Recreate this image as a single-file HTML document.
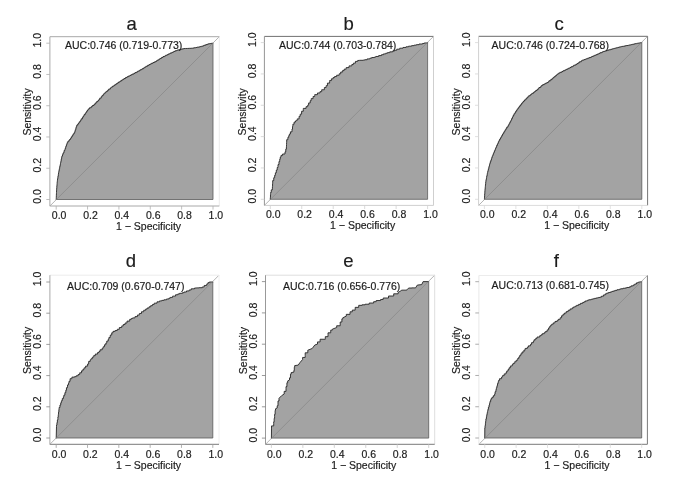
<!DOCTYPE html>
<html><head><meta charset="utf-8"><title>ROC curves</title>
<style>
html,body{margin:0;padding:0;background:#fff;}
body{width:685px;height:486px;overflow:hidden;font-family:"Liberation Sans",sans-serif;}
svg{display:block;opacity:0.999;will-change:transform;}
text{font-family:"Liberation Sans",sans-serif;fill:#1c1c1c;stroke:#1c1c1c;stroke-width:0.18px;}
.t{font-size:10.5px;}
.h{font-size:18.5px;}
</style></head><body>
<svg width="685" height="486" viewBox="0 0 685 486">
<rect x="0" y="0" width="685" height="486" fill="#ffffff"/>
<g id="panel-a">
<polygon points="56.2,199.5 56.2,198.82 56.26,198.82 56.26,197.44 56.32,197.44 56.32,195.7 56.4,195.7 56.4,193.84 56.47,193.84 56.47,192.46 56.52,192.46 56.52,190.95 56.6,190.95 56.6,190 56.6,189.23 56.72,189.23 56.72,187.74 56.84,187.74 56.84,186.1 56.98,186.1 56.98,184.49 57.09,184.49 57.09,183.45 57.15,183.45 57.15,182.15 57.3,182.15 57.3,181.2 57.3,180.57 57.5,180.57 57.5,179.08 57.78,179.08 57.78,177.73 57.94,177.73 57.94,176.12 58.3,176.12 58.3,174.28 58.53,174.28 58.53,173.03 58.7,173.03 58.7,172.5 58.7,171.97 58.92,171.97 58.92,170.54 59.28,170.54 59.28,168.77 59.64,168.77 59.64,167.29 59.89,167.29 59.89,166 60.17,166 60.17,164.51 60.5,164.51 60.5,163.7 60.5,162.65 60.92,162.65 60.92,160.77 61.25,160.77 61.25,158.96 61.64,158.96 61.64,157.34 61.9,157.34 61.9,156.7 61.9,155.99 62.5,155.99 62.5,154.63 63.06,154.63 63.06,152.94 63.93,152.94 63.93,151.59 64.2,151.59 64.2,150.34 65,150.34 65,149.4 65,148.52 65.62,148.52 65.62,147.22 65.92,147.22 65.92,146.08 66.42,146.08 66.42,144.63 66.95,144.63 66.95,143.24 67.4,143.24 67.4,142.6 67.4,141.83 68.69,141.83 68.69,140.59 69.48,140.59 69.48,139.51 70.5,139.51 70.5,138.9 70.5,138.23 71.35,138.23 71.35,136.81 72.3,136.81 72.3,135.41 73.11,135.41 73.11,133.92 74.19,133.92 74.19,132.58 74.8,132.58 74.8,132.1 74.8,131.44 75.2,131.44 75.2,129.79 75.81,129.79 75.81,128.29 76.12,128.29 76.12,126.84 76.7,126.84 76.7,125.9 76.7,125.23 77.72,125.23 77.72,123.97 78.61,123.97 78.61,122.9 79.33,122.9 79.33,121.71 80.4,121.71 80.4,121 80.4,120.43 81.15,120.43 81.15,118.86 82.48,118.86 82.48,117.27 83.25,117.27 83.25,116.04 84.1,116.04 84.1,115.4 84.1,114.61 85.21,114.61 85.21,113.26 86.01,113.26 86.01,112.21 86.7,112.21 86.7,111.2 87.42,111.2 87.42,110 88.4,110 88.4,109.3 88.4,108.86 89.53,108.86 89.53,107.74 91.24,107.74 91.24,106.62 92.39,106.62 92.39,105.53 94,105.53 94,104.9 94,104.25 95.29,104.25 95.29,102.92 96.66,102.92 96.66,101.58 97.99,101.58 97.99,100.46 98.9,100.46 98.9,100 98.9,99.52 99.71,99.52 99.71,98.15 101.21,98.15 101.21,96.7 102.15,96.7 102.15,95.41 103.37,95.41 103.37,94.19 104.2,94.19 104.2,93.7 104.2,93.21 105.32,93.21 105.32,92.34 106.2,92.34 106.2,91.36 107.58,91.36 107.58,90.27 108.69,90.27 108.69,89.07 110.34,89.07 110.34,87.98 111.2,87.98 111.2,87.6 111.2,87.15 112.49,87.15 112.49,86.22 113.89,86.22 113.89,85.43 114.78,85.43 114.78,84.71 115.97,84.71 115.97,83.84 117.28,83.84 117.28,82.98 118.45,82.98 118.45,82.04 120,82.04 120,81.5 120,81.01 121.57,81.01 121.57,80.14 122.76,80.14 122.76,79.39 123.94,79.39 123.94,78.53 125.49,78.53 125.49,77.57 127,77.57 127,77.1 127,76.75 128.38,76.75 128.38,76 130.01,76 130.01,75.36 130.94,75.36 130.94,74.84 132.12,74.84 132.12,74.11 133.85,74.11 133.85,73.39 135,73.39 135,73.1 135,72.6 136.79,72.6 136.79,71.83 137.78,71.83 137.78,71.06 139.55,71.06 139.55,70.33 140.4,70.33 140.4,69.65 142,69.65 142,69.2 142,68.74 143.5,68.74 143.5,67.93 144.63,67.93 144.63,67.2 145.89,67.2 145.89,66.29 147.59,66.29 147.59,65.33 149,65.33 149,64.9 149,64.61 150.15,64.61 150.15,64.01 151.42,64.01 151.42,63.29 153.03,63.29 153.03,62.49 154.62,62.49 154.62,61.75 156,61.75 156,61.4 156,61.05 157.12,61.05 157.12,60.17 158.79,60.17 158.79,59.28 159.94,59.28 159.94,58.43 161.52,58.43 161.52,57.47 163,57.47 163,57 163,56.56 164.76,56.56 164.76,55.9 165.64,55.9 165.64,55.28 167.26,55.28 167.26,54.58 168.44,54.58 168.44,53.89 170,53.89 170,53.5 170,53.09 171.78,53.09 171.78,52.48 172.69,52.48 172.69,52 173.86,52 173.86,51.41 175.27,51.41 175.27,50.7 177,50.7 177,50.3 177,50.13 178.43,50.13 178.43,49.83 179.43,49.83 179.43,49.54 180.87,49.54 180.87,49.16 182.54,49.16 182.54,48.78 184,48.78 184,48.6 184,48.57 185.44,48.57 185.44,48.48 187.68,48.48 187.68,48.4 189.16,48.4 189.16,48.32 191.02,48.32 191.02,48.24 192.7,48.24 192.7,48.2 192.7,48.09 193.83,48.09 193.83,47.79 195.77,47.79 195.77,47.49 196.96,47.49 196.96,47.2 198.81,47.2 198.81,46.9 200.04,46.9 200.04,46.64 201.5,46.64 201.5,46.5 201.5,46.2 203.12,46.2 203.12,45.75 203.91,45.75 203.91,45.27 205.72,45.27 205.72,44.62 207.41,44.62 207.41,44.1 208.5,44.1 208.5,43.9 208.5,43.76 210.27,43.76 210.27,43.56 211.14,43.56 211.14,43.35 213,43.35 213,43.2 213,199.5" fill="#a3a3a3" stroke="none"/>
<polyline points="56.2,199.5 56.2,198.82 56.26,198.82 56.26,197.44 56.32,197.44 56.32,195.7 56.4,195.7 56.4,193.84 56.47,193.84 56.47,192.46 56.52,192.46 56.52,190.95 56.6,190.95 56.6,190 56.6,189.23 56.72,189.23 56.72,187.74 56.84,187.74 56.84,186.1 56.98,186.1 56.98,184.49 57.09,184.49 57.09,183.45 57.15,183.45 57.15,182.15 57.3,182.15 57.3,181.2 57.3,180.57 57.5,180.57 57.5,179.08 57.78,179.08 57.78,177.73 57.94,177.73 57.94,176.12 58.3,176.12 58.3,174.28 58.53,174.28 58.53,173.03 58.7,173.03 58.7,172.5 58.7,171.97 58.92,171.97 58.92,170.54 59.28,170.54 59.28,168.77 59.64,168.77 59.64,167.29 59.89,167.29 59.89,166 60.17,166 60.17,164.51 60.5,164.51 60.5,163.7 60.5,162.65 60.92,162.65 60.92,160.77 61.25,160.77 61.25,158.96 61.64,158.96 61.64,157.34 61.9,157.34 61.9,156.7 61.9,155.99 62.5,155.99 62.5,154.63 63.06,154.63 63.06,152.94 63.93,152.94 63.93,151.59 64.2,151.59 64.2,150.34 65,150.34 65,149.4 65,148.52 65.62,148.52 65.62,147.22 65.92,147.22 65.92,146.08 66.42,146.08 66.42,144.63 66.95,144.63 66.95,143.24 67.4,143.24 67.4,142.6 67.4,141.83 68.69,141.83 68.69,140.59 69.48,140.59 69.48,139.51 70.5,139.51 70.5,138.9 70.5,138.23 71.35,138.23 71.35,136.81 72.3,136.81 72.3,135.41 73.11,135.41 73.11,133.92 74.19,133.92 74.19,132.58 74.8,132.58 74.8,132.1 74.8,131.44 75.2,131.44 75.2,129.79 75.81,129.79 75.81,128.29 76.12,128.29 76.12,126.84 76.7,126.84 76.7,125.9 76.7,125.23 77.72,125.23 77.72,123.97 78.61,123.97 78.61,122.9 79.33,122.9 79.33,121.71 80.4,121.71 80.4,121 80.4,120.43 81.15,120.43 81.15,118.86 82.48,118.86 82.48,117.27 83.25,117.27 83.25,116.04 84.1,116.04 84.1,115.4 84.1,114.61 85.21,114.61 85.21,113.26 86.01,113.26 86.01,112.21 86.7,112.21 86.7,111.2 87.42,111.2 87.42,110 88.4,110 88.4,109.3 88.4,108.86 89.53,108.86 89.53,107.74 91.24,107.74 91.24,106.62 92.39,106.62 92.39,105.53 94,105.53 94,104.9 94,104.25 95.29,104.25 95.29,102.92 96.66,102.92 96.66,101.58 97.99,101.58 97.99,100.46 98.9,100.46 98.9,100 98.9,99.52 99.71,99.52 99.71,98.15 101.21,98.15 101.21,96.7 102.15,96.7 102.15,95.41 103.37,95.41 103.37,94.19 104.2,94.19 104.2,93.7 104.2,93.21 105.32,93.21 105.32,92.34 106.2,92.34 106.2,91.36 107.58,91.36 107.58,90.27 108.69,90.27 108.69,89.07 110.34,89.07 110.34,87.98 111.2,87.98 111.2,87.6 111.2,87.15 112.49,87.15 112.49,86.22 113.89,86.22 113.89,85.43 114.78,85.43 114.78,84.71 115.97,84.71 115.97,83.84 117.28,83.84 117.28,82.98 118.45,82.98 118.45,82.04 120,82.04 120,81.5 120,81.01 121.57,81.01 121.57,80.14 122.76,80.14 122.76,79.39 123.94,79.39 123.94,78.53 125.49,78.53 125.49,77.57 127,77.57 127,77.1 127,76.75 128.38,76.75 128.38,76 130.01,76 130.01,75.36 130.94,75.36 130.94,74.84 132.12,74.84 132.12,74.11 133.85,74.11 133.85,73.39 135,73.39 135,73.1 135,72.6 136.79,72.6 136.79,71.83 137.78,71.83 137.78,71.06 139.55,71.06 139.55,70.33 140.4,70.33 140.4,69.65 142,69.65 142,69.2 142,68.74 143.5,68.74 143.5,67.93 144.63,67.93 144.63,67.2 145.89,67.2 145.89,66.29 147.59,66.29 147.59,65.33 149,65.33 149,64.9 149,64.61 150.15,64.61 150.15,64.01 151.42,64.01 151.42,63.29 153.03,63.29 153.03,62.49 154.62,62.49 154.62,61.75 156,61.75 156,61.4 156,61.05 157.12,61.05 157.12,60.17 158.79,60.17 158.79,59.28 159.94,59.28 159.94,58.43 161.52,58.43 161.52,57.47 163,57.47 163,57 163,56.56 164.76,56.56 164.76,55.9 165.64,55.9 165.64,55.28 167.26,55.28 167.26,54.58 168.44,54.58 168.44,53.89 170,53.89 170,53.5 170,53.09 171.78,53.09 171.78,52.48 172.69,52.48 172.69,52 173.86,52 173.86,51.41 175.27,51.41 175.27,50.7 177,50.7 177,50.3 177,50.13 178.43,50.13 178.43,49.83 179.43,49.83 179.43,49.54 180.87,49.54 180.87,49.16 182.54,49.16 182.54,48.78 184,48.78 184,48.6 184,48.57 185.44,48.57 185.44,48.48 187.68,48.48 187.68,48.4 189.16,48.4 189.16,48.32 191.02,48.32 191.02,48.24 192.7,48.24 192.7,48.2 192.7,48.09 193.83,48.09 193.83,47.79 195.77,47.79 195.77,47.49 196.96,47.49 196.96,47.2 198.81,47.2 198.81,46.9 200.04,46.9 200.04,46.64 201.5,46.64 201.5,46.5 201.5,46.2 203.12,46.2 203.12,45.75 203.91,45.75 203.91,45.27 205.72,45.27 205.72,44.62 207.41,44.62 207.41,44.1 208.5,44.1 208.5,43.9 208.5,43.76 210.27,43.76 210.27,43.56 211.14,43.56 211.14,43.35 213,43.35 213,43.2" fill="none" stroke="#262626" stroke-width="0.9" stroke-linejoin="round" stroke-linecap="round"/>
<polyline points="56.2,199.5 213,199.5 213,43.2" fill="none" stroke="#5a5a5a" stroke-width="0.8"/>
<line x1="49.9" y1="206" x2="219.3" y2="36.7" stroke="#828282" stroke-width="0.6"/>
<line x1="49.9" y1="36.7" x2="219.3" y2="36.7" stroke="#a8a8a8" stroke-width="1"/>
<line x1="219.3" y1="36.7" x2="219.3" y2="206" stroke="#ececec" stroke-width="1"/>
<line x1="49.9" y1="206" x2="219.3" y2="206" stroke="#a8a8a8" stroke-width="1"/>
<line x1="49.9" y1="36.7" x2="49.9" y2="206" stroke="#a8a8a8" stroke-width="1"/>
<line x1="56.2" y1="206" x2="56.2" y2="209.6" stroke="#b0b0b0" stroke-width="0.8"/>
<line x1="46.3" y1="199.5" x2="49.9" y2="199.5" stroke="#b0b0b0" stroke-width="0.8"/>
<text class="t" x="51.8" y="219">0.0</text>
<text class="t" transform="translate(41.2,203.8) rotate(-90)">0.0</text>
<line x1="87.56" y1="206" x2="87.56" y2="209.6" stroke="#b0b0b0" stroke-width="0.8"/>
<line x1="46.3" y1="168.24" x2="49.9" y2="168.24" stroke="#b0b0b0" stroke-width="0.8"/>
<text class="t" x="83.16" y="219">0.2</text>
<text class="t" transform="translate(41.2,172.54) rotate(-90)">0.2</text>
<line x1="118.92" y1="206" x2="118.92" y2="209.6" stroke="#b0b0b0" stroke-width="0.8"/>
<line x1="46.3" y1="136.98" x2="49.9" y2="136.98" stroke="#b0b0b0" stroke-width="0.8"/>
<text class="t" x="114.52" y="219">0.4</text>
<text class="t" transform="translate(41.2,141.28) rotate(-90)">0.4</text>
<line x1="150.28" y1="206" x2="150.28" y2="209.6" stroke="#b0b0b0" stroke-width="0.8"/>
<line x1="46.3" y1="105.72" x2="49.9" y2="105.72" stroke="#b0b0b0" stroke-width="0.8"/>
<text class="t" x="145.88" y="219">0.6</text>
<text class="t" transform="translate(41.2,110.02) rotate(-90)">0.6</text>
<line x1="181.64" y1="206" x2="181.64" y2="209.6" stroke="#b0b0b0" stroke-width="0.8"/>
<line x1="46.3" y1="74.46" x2="49.9" y2="74.46" stroke="#b0b0b0" stroke-width="0.8"/>
<text class="t" x="177.24" y="219">0.8</text>
<text class="t" transform="translate(41.2,78.76) rotate(-90)">0.8</text>
<line x1="213" y1="206" x2="213" y2="209.6" stroke="#b0b0b0" stroke-width="0.8"/>
<line x1="46.3" y1="43.2" x2="49.9" y2="43.2" stroke="#b0b0b0" stroke-width="0.8"/>
<text class="t" x="208.6" y="219">1.0</text>
<text class="t" transform="translate(41.2,47.5) rotate(-90)">1.0</text>
<text class="t" x="116" y="229.6">1 − Specificity</text>
<text class="t" transform="translate(31,135.6) rotate(-90)">Sensitivity</text>
<text class="h" x="126.4" y="29.6">a</text>
<text class="t" x="65" y="48.8">AUC:0.746 (0.719-0.773)</text>
</g>
<g id="panel-b">
<polygon points="270.3,199.3 270.3,197.66 270.47,197.66 270.47,194.76 270.6,194.76 270.6,193.5 270.6,192.51 271.27,192.51 271.27,189.86 272.4,189.86 272.4,188.2 272.4,186.64 272.55,186.64 272.55,183.59 272.7,183.59 272.7,182.1 272.7,180.58 273.74,180.58 273.74,177.73 274.65,177.73 274.65,175.3 275.4,175.3 275.4,174.2 275.4,172.83 276.3,172.83 276.3,170.08 277.21,170.08 277.21,167.5 278,167.5 278,166.3 278,164.58 278.96,164.58 278.96,161.53 279.7,161.53 279.7,160.2 279.7,159.27 280.26,159.27 280.26,157.12 281,157.12 281,155.9 281,155.36 282.59,155.36 282.59,154.01 285,154.01 285,153.2 285,151.8 285.75,151.8 285.75,149.2 286.4,149.2 286.4,148 286.4,146.71 286.51,146.71 286.51,144.58 286.58,144.58 286.58,142.38 286.7,142.38 286.7,141 286.7,139.68 287.87,139.68 287.87,137.39 288.72,137.39 288.72,135.66 289.4,135.66 289.4,134.9 289.4,134.03 290.43,134.03 290.43,131.83 292,131.83 292,130.5 292,129.03 292.5,129.03 292.5,126.38 292.9,126.38 292.9,125.2 292.9,124.2 294.11,124.2 294.11,122.05 295.5,122.05 295.5,120.9 297.2,120.5 297.2,118.9 299.08,118.9 299.08,116.32 300.23,116.32 300.23,114.17 301.6,114.17 301.6,113 301.6,111.25 303.3,111.25 303.3,109.5 303.3,108.4 306.06,108.4 306.06,106.65 307.7,106.65 307.7,106 307.7,105.17 308.64,105.17 308.64,102.95 310.21,102.95 310.21,100.68 311.2,100.68 311.2,99.8 311.2,98.64 313.09,98.64 313.09,96.49 314.7,96.49 314.7,95.5 314.7,94.63 317.48,94.63 317.48,92.97 319.97,92.97 319.97,91.65 321.7,91.65 321.7,91.1 321.7,89.76 324.37,89.76 324.37,87.56 326.1,87.56 326.1,86.7 326.1,85.7 327.45,85.7 327.45,83.1 329.6,83.1 329.6,81.5 329.6,80.6 331.39,80.6 331.39,78.85 333.1,78.85 333.1,78 333.1,77.56 334.62,77.56 334.62,76.54 336.66,76.54 336.66,75.23 339.2,75.23 339.2,74.5 339.2,73.75 340.69,73.75 340.69,72 342.7,72 342.7,71 342.7,70.42 344.26,70.42 344.26,69.12 346.2,69.12 346.2,68.4 346.2,67.6 349,67.6 349,66.8 349,65.9 351.84,65.9 351.84,64.5 353.4,64.5 353.4,64 353.4,63.17 355.43,63.17 355.43,61.42 357.7,61.42 357.7,60.5 357.7,60.45 359.46,60.45 359.46,60.3 362.96,60.3 362.96,60.15 364.7,60.15 364.7,60.1 364.7,59.72 367.12,59.72 367.12,58.9 369.89,58.9 369.89,58.18 371.7,58.18 371.7,57.9 371.7,57.52 374.62,57.52 374.62,56.99 375.85,56.99 375.85,56.47 378.7,56.47 378.7,56.1 378.7,55.58 381.52,55.58 381.52,54.69 383.45,54.69 383.45,53.92 385.7,53.92 385.7,53.5 385.7,53.24 387.44,53.24 387.44,52.64 389.72,52.64 389.72,51.85 392.7,51.85 392.7,51.4 392.7,51.05 394.45,51.05 394.45,50.24 396.76,50.24 396.76,49.19 399.7,49.19 399.7,48.6 399.7,48.21 403,48.21 403,47.46 405.99,47.46 405.99,46.8 408.5,46.8 408.5,46.5 408.5,46.19 411.62,46.19 411.62,45.63 414.07,45.63 414.07,45.16 416.36,45.16 416.36,44.66 419,44.66 419,44.4 419,44.03 422.56,44.03 422.56,43.48 424.25,43.48 424.25,42.95 427.6,42.95 427.6,42.6 427.6,199.3" fill="#a3a3a3" stroke="none"/>
<polyline points="270.3,199.3 270.3,197.66 270.47,197.66 270.47,194.76 270.6,194.76 270.6,193.5 270.6,192.51 271.27,192.51 271.27,189.86 272.4,189.86 272.4,188.2 272.4,186.64 272.55,186.64 272.55,183.59 272.7,183.59 272.7,182.1 272.7,180.58 273.74,180.58 273.74,177.73 274.65,177.73 274.65,175.3 275.4,175.3 275.4,174.2 275.4,172.83 276.3,172.83 276.3,170.08 277.21,170.08 277.21,167.5 278,167.5 278,166.3 278,164.58 278.96,164.58 278.96,161.53 279.7,161.53 279.7,160.2 279.7,159.27 280.26,159.27 280.26,157.12 281,157.12 281,155.9 281,155.36 282.59,155.36 282.59,154.01 285,154.01 285,153.2 285,151.8 285.75,151.8 285.75,149.2 286.4,149.2 286.4,148 286.4,146.71 286.51,146.71 286.51,144.58 286.58,144.58 286.58,142.38 286.7,142.38 286.7,141 286.7,139.68 287.87,139.68 287.87,137.39 288.72,137.39 288.72,135.66 289.4,135.66 289.4,134.9 289.4,134.03 290.43,134.03 290.43,131.83 292,131.83 292,130.5 292,129.03 292.5,129.03 292.5,126.38 292.9,126.38 292.9,125.2 292.9,124.2 294.11,124.2 294.11,122.05 295.5,122.05 295.5,120.9 297.2,120.5 297.2,118.9 299.08,118.9 299.08,116.32 300.23,116.32 300.23,114.17 301.6,114.17 301.6,113 301.6,111.25 303.3,111.25 303.3,109.5 303.3,108.4 306.06,108.4 306.06,106.65 307.7,106.65 307.7,106 307.7,105.17 308.64,105.17 308.64,102.95 310.21,102.95 310.21,100.68 311.2,100.68 311.2,99.8 311.2,98.64 313.09,98.64 313.09,96.49 314.7,96.49 314.7,95.5 314.7,94.63 317.48,94.63 317.48,92.97 319.97,92.97 319.97,91.65 321.7,91.65 321.7,91.1 321.7,89.76 324.37,89.76 324.37,87.56 326.1,87.56 326.1,86.7 326.1,85.7 327.45,85.7 327.45,83.1 329.6,83.1 329.6,81.5 329.6,80.6 331.39,80.6 331.39,78.85 333.1,78.85 333.1,78 333.1,77.56 334.62,77.56 334.62,76.54 336.66,76.54 336.66,75.23 339.2,75.23 339.2,74.5 339.2,73.75 340.69,73.75 340.69,72 342.7,72 342.7,71 342.7,70.42 344.26,70.42 344.26,69.12 346.2,69.12 346.2,68.4 346.2,67.6 349,67.6 349,66.8 349,65.9 351.84,65.9 351.84,64.5 353.4,64.5 353.4,64 353.4,63.17 355.43,63.17 355.43,61.42 357.7,61.42 357.7,60.5 357.7,60.45 359.46,60.45 359.46,60.3 362.96,60.3 362.96,60.15 364.7,60.15 364.7,60.1 364.7,59.72 367.12,59.72 367.12,58.9 369.89,58.9 369.89,58.18 371.7,58.18 371.7,57.9 371.7,57.52 374.62,57.52 374.62,56.99 375.85,56.99 375.85,56.47 378.7,56.47 378.7,56.1 378.7,55.58 381.52,55.58 381.52,54.69 383.45,54.69 383.45,53.92 385.7,53.92 385.7,53.5 385.7,53.24 387.44,53.24 387.44,52.64 389.72,52.64 389.72,51.85 392.7,51.85 392.7,51.4 392.7,51.05 394.45,51.05 394.45,50.24 396.76,50.24 396.76,49.19 399.7,49.19 399.7,48.6 399.7,48.21 403,48.21 403,47.46 405.99,47.46 405.99,46.8 408.5,46.8 408.5,46.5 408.5,46.19 411.62,46.19 411.62,45.63 414.07,45.63 414.07,45.16 416.36,45.16 416.36,44.66 419,44.66 419,44.4 419,44.03 422.56,44.03 422.56,43.48 424.25,43.48 424.25,42.95 427.6,42.95 427.6,42.6" fill="none" stroke="#262626" stroke-width="0.9" stroke-linejoin="round" stroke-linecap="round"/>
<polyline points="270.3,199.3 427.6,199.3 427.6,42.6" fill="none" stroke="#5a5a5a" stroke-width="0.8"/>
<line x1="264.4" y1="205.4" x2="433.5" y2="36.4" stroke="#828282" stroke-width="0.6"/>
<line x1="264.4" y1="36.4" x2="433.5" y2="36.4" stroke="#707070" stroke-width="1"/>
<line x1="433.5" y1="36.4" x2="433.5" y2="205.4" stroke="#cfcfcf" stroke-width="1"/>
<line x1="264.4" y1="205.4" x2="433.5" y2="205.4" stroke="#cfcfcf" stroke-width="1"/>
<line x1="264.4" y1="36.4" x2="264.4" y2="205.4" stroke="#959595" stroke-width="1"/>
<line x1="270.3" y1="205.4" x2="270.3" y2="209" stroke="#d0d0d0" stroke-width="0.8"/>
<line x1="260.8" y1="199.3" x2="264.4" y2="199.3" stroke="#d0d0d0" stroke-width="0.8"/>
<text class="t" x="265.9" y="218.4">0.0</text>
<text class="t" transform="translate(255.7,203.6) rotate(-90)">0.0</text>
<line x1="301.76" y1="205.4" x2="301.76" y2="209" stroke="#d0d0d0" stroke-width="0.8"/>
<line x1="260.8" y1="167.96" x2="264.4" y2="167.96" stroke="#d0d0d0" stroke-width="0.8"/>
<text class="t" x="297.36" y="218.4">0.2</text>
<text class="t" transform="translate(255.7,172.26) rotate(-90)">0.2</text>
<line x1="333.22" y1="205.4" x2="333.22" y2="209" stroke="#d0d0d0" stroke-width="0.8"/>
<line x1="260.8" y1="136.62" x2="264.4" y2="136.62" stroke="#d0d0d0" stroke-width="0.8"/>
<text class="t" x="328.82" y="218.4">0.4</text>
<text class="t" transform="translate(255.7,140.92) rotate(-90)">0.4</text>
<line x1="364.68" y1="205.4" x2="364.68" y2="209" stroke="#d0d0d0" stroke-width="0.8"/>
<line x1="260.8" y1="105.28" x2="264.4" y2="105.28" stroke="#d0d0d0" stroke-width="0.8"/>
<text class="t" x="360.28" y="218.4">0.6</text>
<text class="t" transform="translate(255.7,109.58) rotate(-90)">0.6</text>
<line x1="396.14" y1="205.4" x2="396.14" y2="209" stroke="#d0d0d0" stroke-width="0.8"/>
<line x1="260.8" y1="73.94" x2="264.4" y2="73.94" stroke="#d0d0d0" stroke-width="0.8"/>
<text class="t" x="391.74" y="218.4">0.8</text>
<text class="t" transform="translate(255.7,78.24) rotate(-90)">0.8</text>
<line x1="427.6" y1="205.4" x2="427.6" y2="209" stroke="#d0d0d0" stroke-width="0.8"/>
<line x1="260.8" y1="42.6" x2="264.4" y2="42.6" stroke="#d0d0d0" stroke-width="0.8"/>
<text class="t" x="423.2" y="218.4">1.0</text>
<text class="t" transform="translate(255.7,46.9) rotate(-90)">1.0</text>
<text class="t" x="330.1" y="229">1 − Specificity</text>
<text class="t" transform="translate(245.5,135.4) rotate(-90)">Sensitivity</text>
<text class="h" x="343.4" y="29.6">b</text>
<text class="t" x="279" y="48.8">AUC:0.744 (0.703-0.784)</text>
</g>
<g id="panel-c">
<polygon points="484.4,199.3 484.4,198.53 484.5,198.53 484.5,197.16 484.58,197.16 484.58,195.83 484.67,195.83 484.67,193.96 484.82,193.96 484.82,192.17 484.9,192.17 484.9,190.75 485,190.75 485,190 485,189.12 485.18,189.12 485.18,187.84 485.26,187.84 485.26,186.61 485.43,186.61 485.43,185.1 485.57,185.1 485.57,183.63 485.73,183.63 485.73,182.02 485.9,182.02 485.9,181.2 485.9,180.39 486.22,180.39 486.22,178.81 486.52,178.81 486.52,177.56 486.7,177.56 486.7,176.15 487.07,176.15 487.07,174.68 487.28,174.68 487.28,173.32 487.6,173.32 487.6,172.5 487.6,171.64 488.05,171.64 488.05,170.2 488.35,170.2 488.35,168.78 488.8,168.78 488.8,167.26 489.14,167.26 489.14,165.86 489.53,165.86 489.53,164.41 489.9,164.41 489.9,163.7 489.9,163.1 490.31,163.1 490.31,161.6 490.92,161.6 490.92,159.95 491.45,159.95 491.45,158.68 491.79,158.68 491.79,157.44 492.3,157.44 492.3,156.7 492.3,155.95 492.92,155.95 492.92,154.58 493.42,154.58 493.42,153.29 493.98,153.29 493.98,152.11 494.38,152.11 494.38,150.77 495.08,150.77 495.08,149.41 495.5,149.41 495.5,148.9 495.5,148.18 496.13,148.18 496.13,146.9 496.64,146.9 496.64,145.51 497.36,145.51 497.36,144 497.98,144 497.98,142.85 498.38,142.85 498.38,141.7 499,141.7 499,141 499,140.44 499.65,140.44 499.65,139.08 500.55,139.08 500.55,137.86 501.05,137.86 501.05,136.84 501.72,136.84 501.72,135.58 502.5,135.58 502.5,134.9 502.5,133.95 503.62,133.95 503.62,132.47 504.25,132.47 504.25,131.22 505.1,131.22 505.1,130.5 505.1,129.87 505.93,129.87 505.93,128.63 506.74,128.63 506.74,127.11 507.94,127.11 507.94,125.7 508.6,125.7 508.6,125.2 508.6,124.75 509.08,124.75 509.08,123.68 509.73,123.68 509.73,122.47 510.37,122.47 510.37,121.19 511.1,121.19 511.1,120.5 511.1,119.98 511.6,119.98 511.6,118.61 512.43,118.61 512.43,117.06 513.09,117.06 513.09,115.54 513.9,115.54 513.9,114.7 513.9,113.86 514.99,113.86 514.99,112.49 515.69,112.49 515.69,111.22 516.66,111.22 516.66,109.99 517.3,109.99 517.3,109.5 517.3,108.9 518.22,108.9 518.22,107.76 519.02,107.76 519.02,106.61 519.96,106.61 519.96,105.29 521.01,105.29 521.01,104.08 521.79,104.08 521.79,103.04 522.6,103.04 522.6,102.5 522.6,102.02 523.54,102.02 523.54,101.04 524.54,101.04 524.54,99.9 525.78,99.9 525.78,98.82 526.65,98.82 526.65,97.86 527.68,97.86 527.68,96.82 528.7,96.82 528.7,96.3 528.7,95.76 530.17,95.76 530.17,94.84 531.17,94.84 531.17,94.17 531.95,94.17 531.95,93.31 533.51,93.31 533.51,92.32 534.6,92.32 534.6,91.51 535.7,91.51 535.7,91.1 535.7,90.48 537.13,90.48 537.13,89.35 538.3,89.35 538.3,88.55 538.95,88.55 538.95,87.51 540.68,87.51 540.68,86.46 541.38,86.46 541.38,85.57 542.7,85.57 542.7,85 542.7,84.62 544.21,84.62 544.21,83.91 545.49,83.91 545.49,83.24 546.83,83.24 546.83,82.6 548,82.6 548,82.3 548,81.9 548.97,81.9 548.97,80.73 550.83,80.73 550.83,79.36 552.28,79.36 552.28,78.38 553.2,78.38 553.2,78 553.2,77.6 554.14,77.6 554.14,76.68 555.37,76.68 555.37,75.69 556.49,75.69 556.49,74.94 557.14,74.94 557.14,74.13 558.4,74.13 558.4,73.6 558.4,73.23 559.82,73.23 559.82,72.33 561.84,72.33 561.84,71.5 563,71.5 563,71.2 563,70.78 564.74,70.78 564.74,70.03 566.1,70.03 566.1,69.34 567.55,69.34 567.55,68.76 568.48,68.76 568.48,68.17 570,68.17 570,67.8 570,67.51 571.08,67.51 571.08,66.74 572.81,66.74 572.81,66.01 573.79,66.01 573.79,65.2 575.79,65.2 575.79,64.33 577,64.33 577,64 577,63.6 578.18,63.6 578.18,62.8 579.4,62.8 579.4,61.77 581.23,61.77 581.23,60.83 582.2,60.83 582.2,60.5 582.2,60.17 583.95,60.17 583.95,59.58 585.4,59.58 585.4,59.14 586.3,59.14 586.3,58.74 587.58,58.74 587.58,58.2 589.2,58.2 589.2,57.9 589.2,57.54 590.89,57.54 590.89,56.95 591.96,56.95 591.96,56.41 593.39,56.41 593.39,55.84 594.64,55.84 594.64,55.23 596.2,55.23 596.2,54.9 596.2,54.61 597.48,54.61 597.48,53.95 599.06,53.95 599.06,53.36 600.06,53.36 600.06,52.71 601.94,52.71 601.94,51.99 603.2,51.99 603.2,51.7 603.2,51.47 604.75,51.47 604.75,50.98 606.53,50.98 606.53,50.59 607.41,50.59 607.41,50.27 608.69,50.27 608.69,49.79 610.63,49.79 610.63,49.3 612,49.3 612,49.1 612,48.9 613.48,48.9 613.48,48.55 614.69,48.55 614.69,48.17 616.34,48.17 616.34,47.75 617.85,47.75 617.85,47.39 619.09,47.39 619.09,47.01 620.7,47.01 620.7,46.8 620.7,46.69 621.83,46.69 621.83,46.4 623.68,46.4 623.68,46.1 624.95,46.1 624.95,45.85 626.28,45.85 626.28,45.52 628.37,45.52 628.37,45.21 629.5,45.21 629.5,45.1 629.5,44.9 631.27,44.9 631.27,44.55 632.51,44.55 632.51,44.23 634.07,44.23 634.07,43.97 634.78,43.97 634.78,43.7 636.5,43.7 636.5,43.5 636.5,43.41 637.54,43.41 637.54,43.17 639.35,43.17 639.35,42.93 640.33,42.93 640.33,42.72 641.8,42.72 641.8,42.6 641.8,199.3" fill="#a3a3a3" stroke="none"/>
<polyline points="484.4,199.3 484.4,198.53 484.5,198.53 484.5,197.16 484.58,197.16 484.58,195.83 484.67,195.83 484.67,193.96 484.82,193.96 484.82,192.17 484.9,192.17 484.9,190.75 485,190.75 485,190 485,189.12 485.18,189.12 485.18,187.84 485.26,187.84 485.26,186.61 485.43,186.61 485.43,185.1 485.57,185.1 485.57,183.63 485.73,183.63 485.73,182.02 485.9,182.02 485.9,181.2 485.9,180.39 486.22,180.39 486.22,178.81 486.52,178.81 486.52,177.56 486.7,177.56 486.7,176.15 487.07,176.15 487.07,174.68 487.28,174.68 487.28,173.32 487.6,173.32 487.6,172.5 487.6,171.64 488.05,171.64 488.05,170.2 488.35,170.2 488.35,168.78 488.8,168.78 488.8,167.26 489.14,167.26 489.14,165.86 489.53,165.86 489.53,164.41 489.9,164.41 489.9,163.7 489.9,163.1 490.31,163.1 490.31,161.6 490.92,161.6 490.92,159.95 491.45,159.95 491.45,158.68 491.79,158.68 491.79,157.44 492.3,157.44 492.3,156.7 492.3,155.95 492.92,155.95 492.92,154.58 493.42,154.58 493.42,153.29 493.98,153.29 493.98,152.11 494.38,152.11 494.38,150.77 495.08,150.77 495.08,149.41 495.5,149.41 495.5,148.9 495.5,148.18 496.13,148.18 496.13,146.9 496.64,146.9 496.64,145.51 497.36,145.51 497.36,144 497.98,144 497.98,142.85 498.38,142.85 498.38,141.7 499,141.7 499,141 499,140.44 499.65,140.44 499.65,139.08 500.55,139.08 500.55,137.86 501.05,137.86 501.05,136.84 501.72,136.84 501.72,135.58 502.5,135.58 502.5,134.9 502.5,133.95 503.62,133.95 503.62,132.47 504.25,132.47 504.25,131.22 505.1,131.22 505.1,130.5 505.1,129.87 505.93,129.87 505.93,128.63 506.74,128.63 506.74,127.11 507.94,127.11 507.94,125.7 508.6,125.7 508.6,125.2 508.6,124.75 509.08,124.75 509.08,123.68 509.73,123.68 509.73,122.47 510.37,122.47 510.37,121.19 511.1,121.19 511.1,120.5 511.1,119.98 511.6,119.98 511.6,118.61 512.43,118.61 512.43,117.06 513.09,117.06 513.09,115.54 513.9,115.54 513.9,114.7 513.9,113.86 514.99,113.86 514.99,112.49 515.69,112.49 515.69,111.22 516.66,111.22 516.66,109.99 517.3,109.99 517.3,109.5 517.3,108.9 518.22,108.9 518.22,107.76 519.02,107.76 519.02,106.61 519.96,106.61 519.96,105.29 521.01,105.29 521.01,104.08 521.79,104.08 521.79,103.04 522.6,103.04 522.6,102.5 522.6,102.02 523.54,102.02 523.54,101.04 524.54,101.04 524.54,99.9 525.78,99.9 525.78,98.82 526.65,98.82 526.65,97.86 527.68,97.86 527.68,96.82 528.7,96.82 528.7,96.3 528.7,95.76 530.17,95.76 530.17,94.84 531.17,94.84 531.17,94.17 531.95,94.17 531.95,93.31 533.51,93.31 533.51,92.32 534.6,92.32 534.6,91.51 535.7,91.51 535.7,91.1 535.7,90.48 537.13,90.48 537.13,89.35 538.3,89.35 538.3,88.55 538.95,88.55 538.95,87.51 540.68,87.51 540.68,86.46 541.38,86.46 541.38,85.57 542.7,85.57 542.7,85 542.7,84.62 544.21,84.62 544.21,83.91 545.49,83.91 545.49,83.24 546.83,83.24 546.83,82.6 548,82.6 548,82.3 548,81.9 548.97,81.9 548.97,80.73 550.83,80.73 550.83,79.36 552.28,79.36 552.28,78.38 553.2,78.38 553.2,78 553.2,77.6 554.14,77.6 554.14,76.68 555.37,76.68 555.37,75.69 556.49,75.69 556.49,74.94 557.14,74.94 557.14,74.13 558.4,74.13 558.4,73.6 558.4,73.23 559.82,73.23 559.82,72.33 561.84,72.33 561.84,71.5 563,71.5 563,71.2 563,70.78 564.74,70.78 564.74,70.03 566.1,70.03 566.1,69.34 567.55,69.34 567.55,68.76 568.48,68.76 568.48,68.17 570,68.17 570,67.8 570,67.51 571.08,67.51 571.08,66.74 572.81,66.74 572.81,66.01 573.79,66.01 573.79,65.2 575.79,65.2 575.79,64.33 577,64.33 577,64 577,63.6 578.18,63.6 578.18,62.8 579.4,62.8 579.4,61.77 581.23,61.77 581.23,60.83 582.2,60.83 582.2,60.5 582.2,60.17 583.95,60.17 583.95,59.58 585.4,59.58 585.4,59.14 586.3,59.14 586.3,58.74 587.58,58.74 587.58,58.2 589.2,58.2 589.2,57.9 589.2,57.54 590.89,57.54 590.89,56.95 591.96,56.95 591.96,56.41 593.39,56.41 593.39,55.84 594.64,55.84 594.64,55.23 596.2,55.23 596.2,54.9 596.2,54.61 597.48,54.61 597.48,53.95 599.06,53.95 599.06,53.36 600.06,53.36 600.06,52.71 601.94,52.71 601.94,51.99 603.2,51.99 603.2,51.7 603.2,51.47 604.75,51.47 604.75,50.98 606.53,50.98 606.53,50.59 607.41,50.59 607.41,50.27 608.69,50.27 608.69,49.79 610.63,49.79 610.63,49.3 612,49.3 612,49.1 612,48.9 613.48,48.9 613.48,48.55 614.69,48.55 614.69,48.17 616.34,48.17 616.34,47.75 617.85,47.75 617.85,47.39 619.09,47.39 619.09,47.01 620.7,47.01 620.7,46.8 620.7,46.69 621.83,46.69 621.83,46.4 623.68,46.4 623.68,46.1 624.95,46.1 624.95,45.85 626.28,45.85 626.28,45.52 628.37,45.52 628.37,45.21 629.5,45.21 629.5,45.1 629.5,44.9 631.27,44.9 631.27,44.55 632.51,44.55 632.51,44.23 634.07,44.23 634.07,43.97 634.78,43.97 634.78,43.7 636.5,43.7 636.5,43.5 636.5,43.41 637.54,43.41 637.54,43.17 639.35,43.17 639.35,42.93 640.33,42.93 640.33,42.72 641.8,42.72 641.8,42.6" fill="none" stroke="#262626" stroke-width="0.9" stroke-linejoin="round" stroke-linecap="round"/>
<polyline points="484.4,199.3 641.8,199.3 641.8,42.6" fill="none" stroke="#5a5a5a" stroke-width="0.8"/>
<line x1="478.6" y1="205.4" x2="647.6" y2="36.3" stroke="#828282" stroke-width="0.6"/>
<line x1="478.6" y1="36.3" x2="647.6" y2="36.3" stroke="#6a6a6a" stroke-width="1"/>
<line x1="647.6" y1="36.3" x2="647.6" y2="205.4" stroke="#777" stroke-width="1"/>
<line x1="478.6" y1="205.4" x2="647.6" y2="205.4" stroke="#dcdcdc" stroke-width="1"/>
<line x1="478.6" y1="36.3" x2="478.6" y2="205.4" stroke="#d0d0d0" stroke-width="1"/>
<line x1="484.4" y1="205.4" x2="484.4" y2="209" stroke="#dadada" stroke-width="0.8"/>
<line x1="475" y1="199.3" x2="478.6" y2="199.3" stroke="#d8d8d8" stroke-width="0.8"/>
<text class="t" x="480" y="218.4">0.0</text>
<text class="t" transform="translate(469.9,203.6) rotate(-90)">0.0</text>
<line x1="515.88" y1="205.4" x2="515.88" y2="209" stroke="#dadada" stroke-width="0.8"/>
<line x1="475" y1="167.96" x2="478.6" y2="167.96" stroke="#d8d8d8" stroke-width="0.8"/>
<text class="t" x="511.48" y="218.4">0.2</text>
<text class="t" transform="translate(469.9,172.26) rotate(-90)">0.2</text>
<line x1="547.36" y1="205.4" x2="547.36" y2="209" stroke="#dadada" stroke-width="0.8"/>
<line x1="475" y1="136.62" x2="478.6" y2="136.62" stroke="#d8d8d8" stroke-width="0.8"/>
<text class="t" x="542.96" y="218.4">0.4</text>
<text class="t" transform="translate(469.9,140.92) rotate(-90)">0.4</text>
<line x1="578.84" y1="205.4" x2="578.84" y2="209" stroke="#dadada" stroke-width="0.8"/>
<line x1="475" y1="105.28" x2="478.6" y2="105.28" stroke="#d8d8d8" stroke-width="0.8"/>
<text class="t" x="574.44" y="218.4">0.6</text>
<text class="t" transform="translate(469.9,109.58) rotate(-90)">0.6</text>
<line x1="610.32" y1="205.4" x2="610.32" y2="209" stroke="#dadada" stroke-width="0.8"/>
<line x1="475" y1="73.94" x2="478.6" y2="73.94" stroke="#d8d8d8" stroke-width="0.8"/>
<text class="t" x="605.92" y="218.4">0.8</text>
<text class="t" transform="translate(469.9,78.24) rotate(-90)">0.8</text>
<line x1="641.8" y1="205.4" x2="641.8" y2="209" stroke="#dadada" stroke-width="0.8"/>
<line x1="475" y1="42.6" x2="478.6" y2="42.6" stroke="#d8d8d8" stroke-width="0.8"/>
<text class="t" x="637.4" y="218.4">1.0</text>
<text class="t" transform="translate(469.9,46.9) rotate(-90)">1.0</text>
<text class="t" x="544.2" y="229">1 − Specificity</text>
<text class="t" transform="translate(459.7,135.4) rotate(-90)">Sensitivity</text>
<text class="h" x="554.4" y="29.6">c</text>
<text class="t" x="491.6" y="48.8">AUC:0.746 (0.724-0.768)</text>
</g>
<g id="panel-d">
<polygon points="56.2,438 56.5,426.3 56.5,425.08 56.94,425.08 56.94,422.6 57.39,422.6 57.39,419.92 57.9,419.92 57.9,418.5 57.9,416.98 58.28,416.98 58.28,414.52 58.51,414.52 58.51,412.11 58.87,412.11 58.87,409.71 59.1,409.71 59.1,408.8 59.1,407.51 59.95,407.51 59.95,405.03 60.73,405.03 60.73,402.82 61.4,402.82 61.4,401.8 61.4,400.79 62.31,400.79 62.31,398.58 63.39,398.58 63.39,396.79 63.9,396.79 63.9,395.11 64.9,395.11 64.9,394 64.9,392.63 65.8,392.63 65.8,390.26 66.46,390.26 66.46,387.67 67.5,387.67 67.5,386.1 67.5,384.9 68.52,384.9 68.52,383.15 69,383.15 69,381.29 70.1,381.29 70.1,380 70.1,378.7 71.9,378.7 71.9,377.4 71.9,377.12 74.58,377.12 74.58,376.67 76.2,376.67 76.2,376.5 76.2,375.78 78.14,375.78 78.14,374.48 79.7,374.48 79.7,373.9 79.7,372.8 81.52,372.8 81.52,370.86 82.93,370.86 82.93,369.31 84.1,369.31 84.1,368.6 84.1,367.85 85.6,367.85 85.6,366.1 87.6,366.1 87.6,365.1 87.6,364.03 88.67,364.03 88.67,361.43 90.2,361.43 90.2,359.9 91.1,359.5 91.1,358.73 92.35,358.73 92.35,357.13 93.7,357.13 93.7,356.3 93.7,355.64 95.32,355.64 95.32,354.06 97.6,354.06 97.6,352.57 99,352.57 99,352 99,351.46 100.06,351.46 100.06,349.82 102.2,349.82 102.2,348.17 103.3,348.17 103.3,347.6 103.3,346.72 104.47,346.72 104.47,344.78 105.85,344.78 105.85,343.02 106.8,343.02 106.8,342.3 106.8,341.03 108.25,341.03 108.25,339.15 108.96,339.15 108.96,337.37 110.3,337.37 110.3,336.2 110.3,335.03 111.73,335.03 111.73,332.83 113,332.83 113,331.8 113,331.37 115.16,331.37 115.16,330.52 117.3,330.52 117.3,330.1 117.3,329.28 119.36,329.28 119.36,327.53 121.7,327.53 121.7,326.6 121.7,325.94 123.28,325.94 123.28,324.53 125.09,324.53 125.09,322.99 127,322.99 127,322.2 127,321.11 129.69,321.11 129.69,319.36 131.3,319.36 131.3,318.7 131.3,318.48 132.67,318.48 132.67,317.88 135,317.88 135,317.5 135,316.62 137.41,316.62 137.41,315.02 139.4,315.02 139.4,314.3 139.4,313.48 141.48,313.48 141.48,311.78 143.7,311.78 143.7,310.9 143.7,310.26 145.63,310.26 145.63,309.14 147.09,309.14 147.09,308.03 149,308.03 149,307.4 149,306.82 150.71,306.82 150.71,305.65 152.49,305.65 152.49,304.48 154.2,304.48 154.2,303.9 154.2,303.18 157.01,303.18 157.01,301.83 159.5,301.83 159.5,301.2 159.5,300.93 161.76,300.93 161.76,300.39 163.95,300.39 163.95,299.81 166.5,299.81 166.5,299.5 166.5,298.99 168.87,298.99 168.87,298.22 170.15,298.22 170.15,297.42 172.6,297.42 172.6,296.9 172.6,296.13 175.57,296.13 175.57,294.78 177.8,294.78 177.8,294.2 177.8,293.96 179.57,293.96 179.57,293.31 182.51,293.31 182.51,292.7 184,292.7 184,292.5 184,292 186.47,292 186.47,290.95 189.2,290.95 189.2,290.4 189.2,289.97 191.18,289.97 191.18,288.82 194.5,288.82 194.5,288.1 194.5,288.04 196.45,288.04 196.45,287.89 199.07,287.89 199.07,287.7 202.3,287.7 202.3,287.6 202.3,286.94 204.23,286.94 204.23,285.44 206.7,285.44 206.7,284.6 206.7,283.99 207.93,283.99 207.93,282.69 209.3,282.69 209.3,282 212.8,282 212.8,438" fill="#a3a3a3" stroke="none"/>
<polyline points="56.2,438 56.5,426.3 56.5,425.08 56.94,425.08 56.94,422.6 57.39,422.6 57.39,419.92 57.9,419.92 57.9,418.5 57.9,416.98 58.28,416.98 58.28,414.52 58.51,414.52 58.51,412.11 58.87,412.11 58.87,409.71 59.1,409.71 59.1,408.8 59.1,407.51 59.95,407.51 59.95,405.03 60.73,405.03 60.73,402.82 61.4,402.82 61.4,401.8 61.4,400.79 62.31,400.79 62.31,398.58 63.39,398.58 63.39,396.79 63.9,396.79 63.9,395.11 64.9,395.11 64.9,394 64.9,392.63 65.8,392.63 65.8,390.26 66.46,390.26 66.46,387.67 67.5,387.67 67.5,386.1 67.5,384.9 68.52,384.9 68.52,383.15 69,383.15 69,381.29 70.1,381.29 70.1,380 70.1,378.7 71.9,378.7 71.9,377.4 71.9,377.12 74.58,377.12 74.58,376.67 76.2,376.67 76.2,376.5 76.2,375.78 78.14,375.78 78.14,374.48 79.7,374.48 79.7,373.9 79.7,372.8 81.52,372.8 81.52,370.86 82.93,370.86 82.93,369.31 84.1,369.31 84.1,368.6 84.1,367.85 85.6,367.85 85.6,366.1 87.6,366.1 87.6,365.1 87.6,364.03 88.67,364.03 88.67,361.43 90.2,361.43 90.2,359.9 91.1,359.5 91.1,358.73 92.35,358.73 92.35,357.13 93.7,357.13 93.7,356.3 93.7,355.64 95.32,355.64 95.32,354.06 97.6,354.06 97.6,352.57 99,352.57 99,352 99,351.46 100.06,351.46 100.06,349.82 102.2,349.82 102.2,348.17 103.3,348.17 103.3,347.6 103.3,346.72 104.47,346.72 104.47,344.78 105.85,344.78 105.85,343.02 106.8,343.02 106.8,342.3 106.8,341.03 108.25,341.03 108.25,339.15 108.96,339.15 108.96,337.37 110.3,337.37 110.3,336.2 110.3,335.03 111.73,335.03 111.73,332.83 113,332.83 113,331.8 113,331.37 115.16,331.37 115.16,330.52 117.3,330.52 117.3,330.1 117.3,329.28 119.36,329.28 119.36,327.53 121.7,327.53 121.7,326.6 121.7,325.94 123.28,325.94 123.28,324.53 125.09,324.53 125.09,322.99 127,322.99 127,322.2 127,321.11 129.69,321.11 129.69,319.36 131.3,319.36 131.3,318.7 131.3,318.48 132.67,318.48 132.67,317.88 135,317.88 135,317.5 135,316.62 137.41,316.62 137.41,315.02 139.4,315.02 139.4,314.3 139.4,313.48 141.48,313.48 141.48,311.78 143.7,311.78 143.7,310.9 143.7,310.26 145.63,310.26 145.63,309.14 147.09,309.14 147.09,308.03 149,308.03 149,307.4 149,306.82 150.71,306.82 150.71,305.65 152.49,305.65 152.49,304.48 154.2,304.48 154.2,303.9 154.2,303.18 157.01,303.18 157.01,301.83 159.5,301.83 159.5,301.2 159.5,300.93 161.76,300.93 161.76,300.39 163.95,300.39 163.95,299.81 166.5,299.81 166.5,299.5 166.5,298.99 168.87,298.99 168.87,298.22 170.15,298.22 170.15,297.42 172.6,297.42 172.6,296.9 172.6,296.13 175.57,296.13 175.57,294.78 177.8,294.78 177.8,294.2 177.8,293.96 179.57,293.96 179.57,293.31 182.51,293.31 182.51,292.7 184,292.7 184,292.5 184,292 186.47,292 186.47,290.95 189.2,290.95 189.2,290.4 189.2,289.97 191.18,289.97 191.18,288.82 194.5,288.82 194.5,288.1 194.5,288.04 196.45,288.04 196.45,287.89 199.07,287.89 199.07,287.7 202.3,287.7 202.3,287.6 202.3,286.94 204.23,286.94 204.23,285.44 206.7,285.44 206.7,284.6 206.7,283.99 207.93,283.99 207.93,282.69 209.3,282.69 209.3,282 212.8,282" fill="none" stroke="#262626" stroke-width="0.9" stroke-linejoin="round" stroke-linecap="round"/>
<polyline points="56.2,438 212.8,438 212.8,282" fill="none" stroke="#5a5a5a" stroke-width="0.8"/>
<line x1="49.9" y1="444.3" x2="219" y2="275.2" stroke="#828282" stroke-width="0.6"/>
<line x1="49.9" y1="275.2" x2="219" y2="275.2" stroke="#ececec" stroke-width="1"/>
<line x1="219" y1="275.2" x2="219" y2="444.3" stroke="#f0f0f0" stroke-width="1"/>
<line x1="49.9" y1="444.3" x2="219" y2="444.3" stroke="#7a7a7a" stroke-width="1"/>
<line x1="49.9" y1="275.2" x2="49.9" y2="444.3" stroke="#a8a8a8" stroke-width="1"/>
<line x1="56.2" y1="444.3" x2="56.2" y2="447.9" stroke="#a0a0a0" stroke-width="0.8"/>
<line x1="46.3" y1="438" x2="49.9" y2="438" stroke="#858585" stroke-width="0.8"/>
<text class="t" x="51.8" y="458.2">0.0</text>
<text class="t" transform="translate(41.2,442.3) rotate(-90)">0.0</text>
<line x1="87.52" y1="444.3" x2="87.52" y2="447.9" stroke="#a0a0a0" stroke-width="0.8"/>
<line x1="46.3" y1="406.8" x2="49.9" y2="406.8" stroke="#858585" stroke-width="0.8"/>
<text class="t" x="83.12" y="458.2">0.2</text>
<text class="t" transform="translate(41.2,411.1) rotate(-90)">0.2</text>
<line x1="118.84" y1="444.3" x2="118.84" y2="447.9" stroke="#a0a0a0" stroke-width="0.8"/>
<line x1="46.3" y1="375.6" x2="49.9" y2="375.6" stroke="#858585" stroke-width="0.8"/>
<text class="t" x="114.44" y="458.2">0.4</text>
<text class="t" transform="translate(41.2,379.9) rotate(-90)">0.4</text>
<line x1="150.16" y1="444.3" x2="150.16" y2="447.9" stroke="#a0a0a0" stroke-width="0.8"/>
<line x1="46.3" y1="344.4" x2="49.9" y2="344.4" stroke="#858585" stroke-width="0.8"/>
<text class="t" x="145.76" y="458.2">0.6</text>
<text class="t" transform="translate(41.2,348.7) rotate(-90)">0.6</text>
<line x1="181.48" y1="444.3" x2="181.48" y2="447.9" stroke="#a0a0a0" stroke-width="0.8"/>
<line x1="46.3" y1="313.2" x2="49.9" y2="313.2" stroke="#858585" stroke-width="0.8"/>
<text class="t" x="177.08" y="458.2">0.8</text>
<text class="t" transform="translate(41.2,317.5) rotate(-90)">0.8</text>
<line x1="212.8" y1="444.3" x2="212.8" y2="447.9" stroke="#a0a0a0" stroke-width="0.8"/>
<line x1="46.3" y1="282" x2="49.9" y2="282" stroke="#858585" stroke-width="0.8"/>
<text class="t" x="208.4" y="458.2">1.0</text>
<text class="t" transform="translate(41.2,286.3) rotate(-90)">1.0</text>
<text class="t" x="116" y="469.2">1 − Specificity</text>
<text class="t" transform="translate(31,374.1) rotate(-90)">Sensitivity</text>
<text class="h" x="125.8" y="267.1">d</text>
<text class="t" x="67.1" y="290.4">AUC:0.709 (0.670-0.747)</text>
</g>
<g id="panel-e">
<polygon points="271.4,438.1 271.5,428.1 271.5,425.9 273.7,425.9 273.7,423.7 273.7,421.87 274.17,421.87 274.17,418.37 274.6,418.37 274.6,416.7 274.6,414.37 275.13,414.37 275.13,410.42 275.5,410.42 275.5,408.8 277.2,408 277.2,405.81 278.01,405.81 278.01,400.96 279,400.96 279,398.3 281.6,395.7 284.2,394 284.2,391.35 286,391.35 286,388.7 286,386.62 286.91,386.62 286.91,382.72 287.7,382.72 287.7,380.9 289.5,380 289.5,377.86 290.48,377.86 290.48,374.16 291.2,374.16 291.2,372.6 293.9,372.1 293.9,370.44 294.31,370.44 294.31,367.19 294.7,367.19 294.7,365.6 298.2,365.1 300,362.5 302.6,359.5 302.6,357.45 305.2,357.45 305.2,355.4 305.2,352.8 307.8,352.8 307.8,350.2 312.2,348.5 314.8,345 317.5,344.1 317.5,341.9 320.1,341.9 320.1,339.7 320.1,339.25 325.3,339.25 325.3,338.8 325.3,336.65 328,336.65 328,334.5 328,332.82 330.72,332.82 330.72,330.17 332.3,330.17 332.3,329.2 336.7,327.5 336.7,325.75 340.2,325.75 340.2,324 340.2,322 341.88,322 341.88,318.9 342.8,318.9 342.8,317.8 346.3,316.1 346.3,314.35 350,314.35 350,312.6 350,311.83 352.29,311.83 352.29,310.08 355.2,310.08 355.2,309.1 355.2,307.35 358.7,307.35 358.7,305.6 358.7,305.33 362.05,305.33 362.05,304.81 365.1,304.81 365.1,304.23 369.2,304.23 369.2,303.9 369.2,303.04 373.65,303.04 373.65,301.69 376.2,301.69 376.2,301.2 376.2,300.54 380.61,300.54 380.61,299.49 383.2,299.49 383.2,299.1 383.2,298 388.5,298 388.5,296.9 388.5,296 393.7,296 393.7,295.1 393.7,293.8 398.1,293.8 398.1,292.5 401.6,290.4 401.6,290.15 406.8,290.15 406.8,289.9 408.6,288.1 408.6,288.03 411.96,288.03 411.96,287.88 415.6,287.88 415.6,287.8 417.3,285.1 421.7,284.6 423.1,281.6 428.7,281.6 428.7,438.1" fill="#a3a3a3" stroke="none"/>
<polyline points="271.4,438.1 271.5,428.1 271.5,425.9 273.7,425.9 273.7,423.7 273.7,421.87 274.17,421.87 274.17,418.37 274.6,418.37 274.6,416.7 274.6,414.37 275.13,414.37 275.13,410.42 275.5,410.42 275.5,408.8 277.2,408 277.2,405.81 278.01,405.81 278.01,400.96 279,400.96 279,398.3 281.6,395.7 284.2,394 284.2,391.35 286,391.35 286,388.7 286,386.62 286.91,386.62 286.91,382.72 287.7,382.72 287.7,380.9 289.5,380 289.5,377.86 290.48,377.86 290.48,374.16 291.2,374.16 291.2,372.6 293.9,372.1 293.9,370.44 294.31,370.44 294.31,367.19 294.7,367.19 294.7,365.6 298.2,365.1 300,362.5 302.6,359.5 302.6,357.45 305.2,357.45 305.2,355.4 305.2,352.8 307.8,352.8 307.8,350.2 312.2,348.5 314.8,345 317.5,344.1 317.5,341.9 320.1,341.9 320.1,339.7 320.1,339.25 325.3,339.25 325.3,338.8 325.3,336.65 328,336.65 328,334.5 328,332.82 330.72,332.82 330.72,330.17 332.3,330.17 332.3,329.2 336.7,327.5 336.7,325.75 340.2,325.75 340.2,324 340.2,322 341.88,322 341.88,318.9 342.8,318.9 342.8,317.8 346.3,316.1 346.3,314.35 350,314.35 350,312.6 350,311.83 352.29,311.83 352.29,310.08 355.2,310.08 355.2,309.1 355.2,307.35 358.7,307.35 358.7,305.6 358.7,305.33 362.05,305.33 362.05,304.81 365.1,304.81 365.1,304.23 369.2,304.23 369.2,303.9 369.2,303.04 373.65,303.04 373.65,301.69 376.2,301.69 376.2,301.2 376.2,300.54 380.61,300.54 380.61,299.49 383.2,299.49 383.2,299.1 383.2,298 388.5,298 388.5,296.9 388.5,296 393.7,296 393.7,295.1 393.7,293.8 398.1,293.8 398.1,292.5 401.6,290.4 401.6,290.15 406.8,290.15 406.8,289.9 408.6,288.1 408.6,288.03 411.96,288.03 411.96,287.88 415.6,287.88 415.6,287.8 417.3,285.1 421.7,284.6 423.1,281.6 428.7,281.6" fill="none" stroke="#262626" stroke-width="0.9" stroke-linejoin="round" stroke-linecap="round"/>
<polyline points="271.4,438.1 428.7,438.1 428.7,281.6" fill="none" stroke="#5a5a5a" stroke-width="0.8"/>
<line x1="265.5" y1="444.3" x2="434.7" y2="275.2" stroke="#828282" stroke-width="0.6"/>
<line x1="265.5" y1="275.2" x2="434.7" y2="275.2" stroke="#dedede" stroke-width="1"/>
<line x1="434.7" y1="275.2" x2="434.7" y2="444.3" stroke="#dedede" stroke-width="1"/>
<line x1="265.5" y1="444.3" x2="434.7" y2="444.3" stroke="#7a7a7a" stroke-width="1"/>
<line x1="265.5" y1="275.2" x2="265.5" y2="444.3" stroke="#999" stroke-width="1"/>
<line x1="271.4" y1="444.3" x2="271.4" y2="447.9" stroke="#c8c8c8" stroke-width="0.8"/>
<line x1="261.9" y1="438.1" x2="265.5" y2="438.1" stroke="#808080" stroke-width="0.8"/>
<text class="t" x="267" y="458.2">0.0</text>
<text class="t" transform="translate(256.8,442.4) rotate(-90)">0.0</text>
<line x1="302.86" y1="444.3" x2="302.86" y2="447.9" stroke="#c8c8c8" stroke-width="0.8"/>
<line x1="261.9" y1="406.8" x2="265.5" y2="406.8" stroke="#808080" stroke-width="0.8"/>
<text class="t" x="298.46" y="458.2">0.2</text>
<text class="t" transform="translate(256.8,411.1) rotate(-90)">0.2</text>
<line x1="334.32" y1="444.3" x2="334.32" y2="447.9" stroke="#c8c8c8" stroke-width="0.8"/>
<line x1="261.9" y1="375.5" x2="265.5" y2="375.5" stroke="#808080" stroke-width="0.8"/>
<text class="t" x="329.92" y="458.2">0.4</text>
<text class="t" transform="translate(256.8,379.8) rotate(-90)">0.4</text>
<line x1="365.78" y1="444.3" x2="365.78" y2="447.9" stroke="#c8c8c8" stroke-width="0.8"/>
<line x1="261.9" y1="344.2" x2="265.5" y2="344.2" stroke="#808080" stroke-width="0.8"/>
<text class="t" x="361.38" y="458.2">0.6</text>
<text class="t" transform="translate(256.8,348.5) rotate(-90)">0.6</text>
<line x1="397.24" y1="444.3" x2="397.24" y2="447.9" stroke="#c8c8c8" stroke-width="0.8"/>
<line x1="261.9" y1="312.9" x2="265.5" y2="312.9" stroke="#808080" stroke-width="0.8"/>
<text class="t" x="392.84" y="458.2">0.8</text>
<text class="t" transform="translate(256.8,317.2) rotate(-90)">0.8</text>
<line x1="428.7" y1="444.3" x2="428.7" y2="447.9" stroke="#c8c8c8" stroke-width="0.8"/>
<line x1="261.9" y1="281.6" x2="265.5" y2="281.6" stroke="#808080" stroke-width="0.8"/>
<text class="t" x="424.3" y="458.2">1.0</text>
<text class="t" transform="translate(256.8,285.9) rotate(-90)">1.0</text>
<text class="t" x="331.2" y="469.2">1 − Specificity</text>
<text class="t" transform="translate(246.6,374.2) rotate(-90)">Sensitivity</text>
<text class="h" x="343.3" y="267.1">e</text>
<text class="t" x="283" y="290.4">AUC:0.716 (0.656-0.776)</text>
</g>
<g id="panel-f">
<polygon points="484.75,438 484.8,429 484.8,427.95 485.06,427.95 485.06,425.53 485.41,425.53 485.41,423.22 485.64,423.22 485.64,421.24 485.9,421.24 485.9,420.2 485.9,418.84 486.43,418.84 486.43,416.6 486.77,416.6 486.77,414.64 487.2,414.64 487.2,412.53 487.6,412.53 487.6,411.5 487.6,410.84 487.94,410.84 487.94,409.29 488.41,409.29 488.41,407.12 489.08,407.12 489.08,404.97 489.54,404.97 489.54,403.39 489.9,403.39 489.9,402.7 489.9,401.61 490.65,401.61 490.65,399.86 491.1,399.86 491.1,399.2 491.1,398.64 492.01,398.64 492.01,397.24 493.38,397.24 493.38,395.65 494.6,395.65 494.6,394.9 494.6,394.05 495.1,394.05 495.1,391.73 495.95,391.73 495.95,389.48 496.4,389.48 496.4,388.7 496.4,387.72 496.95,387.72 496.95,385.72 497.53,385.72 497.53,383.57 498.16,383.57 498.16,381.67 498.6,381.67 498.6,380.9 498.6,380.35 499.57,380.35 499.57,378.68 501.57,378.68 501.57,377.02 502.5,377.02 502.5,376.5 502.5,375.67 504.16,375.67 504.16,373.92 506,373.92 506,373 506,372.45 506.79,372.45 506.79,370.97 508.14,370.97 508.14,369.36 509.12,369.36 509.12,367.79 510.4,367.79 510.4,366.9 510.4,365.98 512.2,365.98 512.2,364.61 513.07,364.61 513.07,363.33 514.7,363.33 514.7,362.5 514.7,361.74 516.17,361.74 516.17,360.24 517.6,360.24 517.6,359.5 517.6,358.58 518.8,358.58 518.8,356.96 519.72,356.96 519.72,355.43 520.8,355.43 520.8,354.6 520.8,353.85 522.05,353.85 522.05,351.98 523.91,351.98 523.91,350.08 525.2,350.08 525.2,349.3 525.2,348.43 527.35,348.43 527.35,347.12 528.42,347.12 528.42,345.84 530.5,345.84 530.5,345 530.5,344.37 531.56,344.37 531.56,342.65 533.38,342.65 533.38,341.11 534.15,341.11 534.15,339.73 535.7,339.73 535.7,338.8 535.7,338.35 537.06,338.35 537.06,337.02 539.73,337.02 539.73,335.72 541,335.72 541,335.3 541,334.86 542.26,334.86 542.26,333.71 544.25,333.71 544.25,332.65 545.27,332.65 545.27,331.64 547.1,331.64 547.1,331 547.1,329.88 548.58,329.88 548.58,327.92 549.69,327.92 549.69,326.39 550.6,326.39 550.6,325.7 550.6,325.25 551.74,325.25 551.74,324.18 553.29,324.18 553.29,322.88 555,322.88 555,322.2 555,321.44 557.25,321.44 557.25,320.28 558.47,320.28 558.47,319.28 560.2,319.28 560.2,318.7 560.2,317.76 561.55,317.76 561.55,315.81 563,315.81 563,314.8 563,314.2 564.61,314.2 564.61,312.97 566.28,312.97 566.28,311.62 568.2,311.62 568.2,310.9 568.2,310.28 570.08,310.28 570.08,308.96 572.21,308.96 572.21,307.83 573.5,307.83 573.5,307.4 573.5,306.96 575.25,306.96 575.25,306.17 576.65,306.17 576.65,305.33 578.63,305.33 578.63,304.37 580.5,304.37 580.5,303.9 580.5,303.35 582.69,303.35 582.69,302.45 584.1,302.45 584.1,301.77 585.42,301.77 585.42,300.92 587.5,300.92 587.5,300.4 587.5,300.24 588.75,300.24 588.75,299.77 591.18,299.77 591.18,299.25 592.74,299.25 592.74,298.83 594.5,298.83 594.5,298.6 594.5,298.37 596.4,298.37 596.4,297.9 598.4,297.9 598.4,297.44 600.12,297.44 600.12,297.07 601.5,297.07 601.5,296.9 601.5,296.2 603.59,296.2 603.59,294.9 605.34,294.9 605.34,293.86 606.7,293.86 606.7,293.4 606.7,293.1 608.53,293.1 608.53,292.48 610.49,292.48 610.49,291.91 611.99,291.91 611.99,291.38 613.7,291.38 613.7,291.1 613.7,290.87 615.26,290.87 615.26,290.37 617,290.37 617,289.74 619.45,289.74 619.45,289.19 620.7,289.19 620.7,289 620.7,288.76 623.06,288.76 623.06,288.26 625.57,288.26 625.57,287.87 626.87,287.87 626.87,287.47 629.5,287.47 629.5,287.2 629.5,286.82 631.03,286.82 631.03,285.89 633.22,285.89 633.22,284.97 634.7,284.97 634.7,284.6 634.7,284.01 636.49,284.01 636.49,282.86 638.2,282.86 638.2,282.3 638.2,282.19 639.5,282.19 639.5,281.89 641.7,281.89 641.7,281.7 641.7,438" fill="#a3a3a3" stroke="none"/>
<polyline points="484.75,438 484.8,429 484.8,427.95 485.06,427.95 485.06,425.53 485.41,425.53 485.41,423.22 485.64,423.22 485.64,421.24 485.9,421.24 485.9,420.2 485.9,418.84 486.43,418.84 486.43,416.6 486.77,416.6 486.77,414.64 487.2,414.64 487.2,412.53 487.6,412.53 487.6,411.5 487.6,410.84 487.94,410.84 487.94,409.29 488.41,409.29 488.41,407.12 489.08,407.12 489.08,404.97 489.54,404.97 489.54,403.39 489.9,403.39 489.9,402.7 489.9,401.61 490.65,401.61 490.65,399.86 491.1,399.86 491.1,399.2 491.1,398.64 492.01,398.64 492.01,397.24 493.38,397.24 493.38,395.65 494.6,395.65 494.6,394.9 494.6,394.05 495.1,394.05 495.1,391.73 495.95,391.73 495.95,389.48 496.4,389.48 496.4,388.7 496.4,387.72 496.95,387.72 496.95,385.72 497.53,385.72 497.53,383.57 498.16,383.57 498.16,381.67 498.6,381.67 498.6,380.9 498.6,380.35 499.57,380.35 499.57,378.68 501.57,378.68 501.57,377.02 502.5,377.02 502.5,376.5 502.5,375.67 504.16,375.67 504.16,373.92 506,373.92 506,373 506,372.45 506.79,372.45 506.79,370.97 508.14,370.97 508.14,369.36 509.12,369.36 509.12,367.79 510.4,367.79 510.4,366.9 510.4,365.98 512.2,365.98 512.2,364.61 513.07,364.61 513.07,363.33 514.7,363.33 514.7,362.5 514.7,361.74 516.17,361.74 516.17,360.24 517.6,360.24 517.6,359.5 517.6,358.58 518.8,358.58 518.8,356.96 519.72,356.96 519.72,355.43 520.8,355.43 520.8,354.6 520.8,353.85 522.05,353.85 522.05,351.98 523.91,351.98 523.91,350.08 525.2,350.08 525.2,349.3 525.2,348.43 527.35,348.43 527.35,347.12 528.42,347.12 528.42,345.84 530.5,345.84 530.5,345 530.5,344.37 531.56,344.37 531.56,342.65 533.38,342.65 533.38,341.11 534.15,341.11 534.15,339.73 535.7,339.73 535.7,338.8 535.7,338.35 537.06,338.35 537.06,337.02 539.73,337.02 539.73,335.72 541,335.72 541,335.3 541,334.86 542.26,334.86 542.26,333.71 544.25,333.71 544.25,332.65 545.27,332.65 545.27,331.64 547.1,331.64 547.1,331 547.1,329.88 548.58,329.88 548.58,327.92 549.69,327.92 549.69,326.39 550.6,326.39 550.6,325.7 550.6,325.25 551.74,325.25 551.74,324.18 553.29,324.18 553.29,322.88 555,322.88 555,322.2 555,321.44 557.25,321.44 557.25,320.28 558.47,320.28 558.47,319.28 560.2,319.28 560.2,318.7 560.2,317.76 561.55,317.76 561.55,315.81 563,315.81 563,314.8 563,314.2 564.61,314.2 564.61,312.97 566.28,312.97 566.28,311.62 568.2,311.62 568.2,310.9 568.2,310.28 570.08,310.28 570.08,308.96 572.21,308.96 572.21,307.83 573.5,307.83 573.5,307.4 573.5,306.96 575.25,306.96 575.25,306.17 576.65,306.17 576.65,305.33 578.63,305.33 578.63,304.37 580.5,304.37 580.5,303.9 580.5,303.35 582.69,303.35 582.69,302.45 584.1,302.45 584.1,301.77 585.42,301.77 585.42,300.92 587.5,300.92 587.5,300.4 587.5,300.24 588.75,300.24 588.75,299.77 591.18,299.77 591.18,299.25 592.74,299.25 592.74,298.83 594.5,298.83 594.5,298.6 594.5,298.37 596.4,298.37 596.4,297.9 598.4,297.9 598.4,297.44 600.12,297.44 600.12,297.07 601.5,297.07 601.5,296.9 601.5,296.2 603.59,296.2 603.59,294.9 605.34,294.9 605.34,293.86 606.7,293.86 606.7,293.4 606.7,293.1 608.53,293.1 608.53,292.48 610.49,292.48 610.49,291.91 611.99,291.91 611.99,291.38 613.7,291.38 613.7,291.1 613.7,290.87 615.26,290.87 615.26,290.37 617,290.37 617,289.74 619.45,289.74 619.45,289.19 620.7,289.19 620.7,289 620.7,288.76 623.06,288.76 623.06,288.26 625.57,288.26 625.57,287.87 626.87,287.87 626.87,287.47 629.5,287.47 629.5,287.2 629.5,286.82 631.03,286.82 631.03,285.89 633.22,285.89 633.22,284.97 634.7,284.97 634.7,284.6 634.7,284.01 636.49,284.01 636.49,282.86 638.2,282.86 638.2,282.3 638.2,282.19 639.5,282.19 639.5,281.89 641.7,281.89 641.7,281.7" fill="none" stroke="#262626" stroke-width="0.9" stroke-linejoin="round" stroke-linecap="round"/>
<polyline points="484.75,438 641.7,438 641.7,281.7" fill="none" stroke="#5a5a5a" stroke-width="0.8"/>
<line x1="478.9" y1="444.3" x2="647.4" y2="275.5" stroke="#828282" stroke-width="0.6"/>
<line x1="478.9" y1="275.5" x2="647.4" y2="275.5" stroke="#ececec" stroke-width="1"/>
<line x1="647.4" y1="275.5" x2="647.4" y2="444.3" stroke="#7a7a7a" stroke-width="1"/>
<line x1="478.9" y1="444.3" x2="647.4" y2="444.3" stroke="#7a7a7a" stroke-width="1"/>
<line x1="478.9" y1="275.5" x2="478.9" y2="444.3" stroke="#e8e8e8" stroke-width="1"/>
<line x1="484.75" y1="444.3" x2="484.75" y2="447.9" stroke="#d8d8d8" stroke-width="0.8"/>
<line x1="475.3" y1="438" x2="478.9" y2="438" stroke="#989898" stroke-width="0.8"/>
<text class="t" x="480.35" y="458.2">0.0</text>
<text class="t" transform="translate(470.2,442.3) rotate(-90)">0.0</text>
<line x1="516.14" y1="444.3" x2="516.14" y2="447.9" stroke="#d8d8d8" stroke-width="0.8"/>
<line x1="475.3" y1="406.74" x2="478.9" y2="406.74" stroke="#989898" stroke-width="0.8"/>
<text class="t" x="511.74" y="458.2">0.2</text>
<text class="t" transform="translate(470.2,411.04) rotate(-90)">0.2</text>
<line x1="547.53" y1="444.3" x2="547.53" y2="447.9" stroke="#d8d8d8" stroke-width="0.8"/>
<line x1="475.3" y1="375.48" x2="478.9" y2="375.48" stroke="#989898" stroke-width="0.8"/>
<text class="t" x="543.13" y="458.2">0.4</text>
<text class="t" transform="translate(470.2,379.78) rotate(-90)">0.4</text>
<line x1="578.92" y1="444.3" x2="578.92" y2="447.9" stroke="#d8d8d8" stroke-width="0.8"/>
<line x1="475.3" y1="344.22" x2="478.9" y2="344.22" stroke="#989898" stroke-width="0.8"/>
<text class="t" x="574.52" y="458.2">0.6</text>
<text class="t" transform="translate(470.2,348.52) rotate(-90)">0.6</text>
<line x1="610.31" y1="444.3" x2="610.31" y2="447.9" stroke="#d8d8d8" stroke-width="0.8"/>
<line x1="475.3" y1="312.96" x2="478.9" y2="312.96" stroke="#989898" stroke-width="0.8"/>
<text class="t" x="605.91" y="458.2">0.8</text>
<text class="t" transform="translate(470.2,317.26) rotate(-90)">0.8</text>
<line x1="641.7" y1="444.3" x2="641.7" y2="447.9" stroke="#d8d8d8" stroke-width="0.8"/>
<line x1="475.3" y1="281.7" x2="478.9" y2="281.7" stroke="#989898" stroke-width="0.8"/>
<text class="t" x="637.3" y="458.2">1.0</text>
<text class="t" transform="translate(470.2,286) rotate(-90)">1.0</text>
<text class="t" x="544.55" y="469.2">1 − Specificity</text>
<text class="t" transform="translate(460,374.1) rotate(-90)">Sensitivity</text>
<text class="h" x="553.8" y="267.1">f</text>
<text class="t" x="491.6" y="288.6">AUC:0.713 (0.681-0.745)</text>
</g>
</svg></body></html>
